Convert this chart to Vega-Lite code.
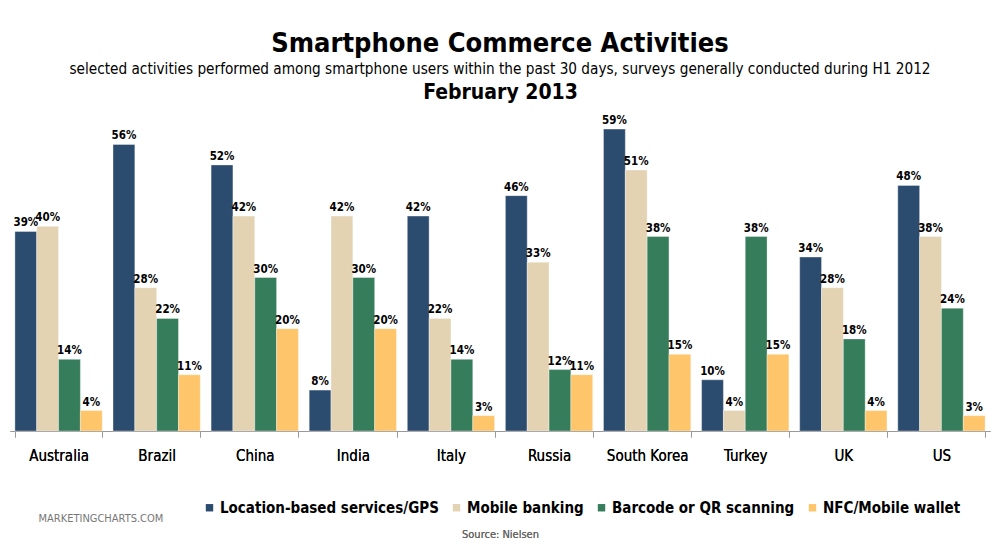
{
  "$schema": "https://vega.github.io/schema/vega-lite/v6.json",
  "width": 980,
  "height": 307,
  "autosize": {"type": "none"},
  "padding": {"left": 10, "top": 124, "right": 10, "bottom": 114},
  "background": "white",
  "config": {"view": {"stroke": null}},
  "title": {
    "text": "Smartphone Commerce Activities",
    "subtitle": "selected activities performed among smartphone users within the past 30 days, surveys generally conducted during H1 2012",
    "anchor": "middle",
    "font": "DejaVu Sans Condensed",
    "fontSize": 27,
    "fontWeight": "bold",
    "color": "black",
    "subtitleFont": "DejaVu Sans Condensed",
    "subtitleFontSize": 15.2,
    "subtitleColor": "black",
    "subtitlePadding": 4,
    "offset": 3
  },
  "data": {
    "values": [
      {"country": "Australia", "activity": "Location-based services/GPS", "value": 39},
      {"country": "Australia", "activity": "Mobile banking", "value": 40},
      {"country": "Australia", "activity": "Barcode or QR scanning", "value": 14},
      {"country": "Australia", "activity": "NFC/Mobile wallet", "value": 4},
      {"country": "Brazil", "activity": "Location-based services/GPS", "value": 56},
      {"country": "Brazil", "activity": "Mobile banking", "value": 28},
      {"country": "Brazil", "activity": "Barcode or QR scanning", "value": 22},
      {"country": "Brazil", "activity": "NFC/Mobile wallet", "value": 11},
      {"country": "China", "activity": "Location-based services/GPS", "value": 52},
      {"country": "China", "activity": "Mobile banking", "value": 42},
      {"country": "China", "activity": "Barcode or QR scanning", "value": 30},
      {"country": "China", "activity": "NFC/Mobile wallet", "value": 20},
      {"country": "India", "activity": "Location-based services/GPS", "value": 8},
      {"country": "India", "activity": "Mobile banking", "value": 42},
      {"country": "India", "activity": "Barcode or QR scanning", "value": 30},
      {"country": "India", "activity": "NFC/Mobile wallet", "value": 20},
      {"country": "Italy", "activity": "Location-based services/GPS", "value": 42},
      {"country": "Italy", "activity": "Mobile banking", "value": 22},
      {"country": "Italy", "activity": "Barcode or QR scanning", "value": 14},
      {"country": "Italy", "activity": "NFC/Mobile wallet", "value": 3},
      {"country": "Russia", "activity": "Location-based services/GPS", "value": 46},
      {"country": "Russia", "activity": "Mobile banking", "value": 33},
      {"country": "Russia", "activity": "Barcode or QR scanning", "value": 12},
      {"country": "Russia", "activity": "NFC/Mobile wallet", "value": 11},
      {"country": "South Korea", "activity": "Location-based services/GPS", "value": 59},
      {"country": "South Korea", "activity": "Mobile banking", "value": 51},
      {"country": "South Korea", "activity": "Barcode or QR scanning", "value": 38},
      {"country": "South Korea", "activity": "NFC/Mobile wallet", "value": 15},
      {"country": "Turkey", "activity": "Location-based services/GPS", "value": 10},
      {"country": "Turkey", "activity": "Mobile banking", "value": 4},
      {"country": "Turkey", "activity": "Barcode or QR scanning", "value": 38},
      {"country": "Turkey", "activity": "NFC/Mobile wallet", "value": 15},
      {"country": "UK", "activity": "Location-based services/GPS", "value": 34},
      {"country": "UK", "activity": "Mobile banking", "value": 28},
      {"country": "UK", "activity": "Barcode or QR scanning", "value": 18},
      {"country": "UK", "activity": "NFC/Mobile wallet", "value": 4},
      {"country": "US", "activity": "Location-based services/GPS", "value": 48},
      {"country": "US", "activity": "Mobile banking", "value": 38},
      {"country": "US", "activity": "Barcode or QR scanning", "value": 24},
      {"country": "US", "activity": "NFC/Mobile wallet", "value": 3}
    ]
  },
  "encoding": {
    "x": {
      "field": "country",
      "type": "nominal",
      "sort": null,
      "scale": {"paddingInner": 0.11, "paddingOuter": 0.05},
      "axis": {
        "orient": "bottom",
        "title": "Source: Nielsen",
        "titleFont": "DejaVu Sans Condensed",
        "titleFontSize": 11,
        "titleFontWeight": "normal",
        "titleColor": "#666666",
        "titlePadding": 65,
        "labelAngle": 0,
        "labelFont": "DejaVu Sans Condensed",
        "labelFontSize": 15,
        "labelColor": "black",
        "labelPadding": 11,
        "tickBand": "extent",
        "tickSize": 6,
        "tickColor": "#999999",
        "domainColor": "#999999"
      }
    },
    "xOffset": {
      "field": "activity",
      "type": "nominal",
      "sort": ["Location-based services/GPS", "Mobile banking", "Barcode or QR scanning", "NFC/Mobile wallet"],
      "scale": {"paddingInner": 0, "paddingOuter": 0}
    },
    "y": {
      "field": "value",
      "type": "quantitative",
      "scale": {"domain": [0, 60], "nice": false},
      "axis": {
        "orient": "left",
        "labels": false,
        "ticks": false,
        "domain": false,
        "grid": false,
        "title": "MARKETINGCHARTS.COM",
        "titleAngle": 0,
        "titleX": 28,
        "titleY": 394,
        "titleAlign": "left",
        "titleBaseline": "middle",
        "titleFont": "DejaVu Sans Condensed",
        "titleFontSize": 11,
        "titleFontWeight": "normal",
        "titleColor": "#777777"
      }
    }
  },
  "layer": [
    {
      "mark": {"type": "bar", "stroke": "white", "strokeOpacity": 0.35, "strokeWidth": 1},
      "encoding": {
        "color": {
          "field": "activity",
          "type": "nominal",
          "sort": ["Location-based services/GPS", "Mobile banking", "Barcode or QR scanning", "NFC/Mobile wallet"],
          "scale": {
            "domain": ["Location-based services/GPS", "Mobile banking", "Barcode or QR scanning", "NFC/Mobile wallet"],
            "range": ["#2C4C6F", "#E3D3B3", "#367D5B", "#FEC56A"]
          },
          "legend": {
            "orient": "none",
            "legendX": 192,
            "legendY": 376,
            "direction": "horizontal",
            "title": null,
            "symbolType": "square",
            "symbolSize": 55,
            "symbolStrokeWidth": 0,
            "labelFont": "DejaVu Sans Condensed",
            "labelFontSize": 15,
            "labelFontWeight": "bold",
            "labelColor": "black",
            "labelOffset": 3,
            "columnPadding": 10,
            "labelLimit": 400
          }
        }
      }
    },
    {
      "transform": [{"calculate": "datum.value + '%'", "as": "label"}],
      "mark": {"type": "text", "baseline": "bottom", "dy": -3, "font": "DejaVu Sans Condensed", "fontSize": 11.5, "fontWeight": "bold", "color": "black"},
      "encoding": {
        "text": {"field": "label", "type": "nominal"}
      }
    },
    {
      "transform": [{"filter": "datum.country === 'Australia' && datum.activity === 'Mobile banking'"}],
      "mark": {"type": "text", "opacity": 0},
      "encoding": {
        "x": {
          "field": "country",
          "type": "nominal",
          "sort": null,
          "axis": {
            "orient": "top",
            "labels": false,
            "ticks": false,
            "domain": false,
            "title": "February 2013",
            "titleFont": "DejaVu Sans Condensed",
            "titleFontSize": 21,
            "titleFontWeight": "bold",
            "titleColor": "black",
            "titlePadding": 22
          }
        },
        "text": {"value": ""}
      }
    }
  ],
  "resolve": {"axis": {"x": "independent"}}
}
